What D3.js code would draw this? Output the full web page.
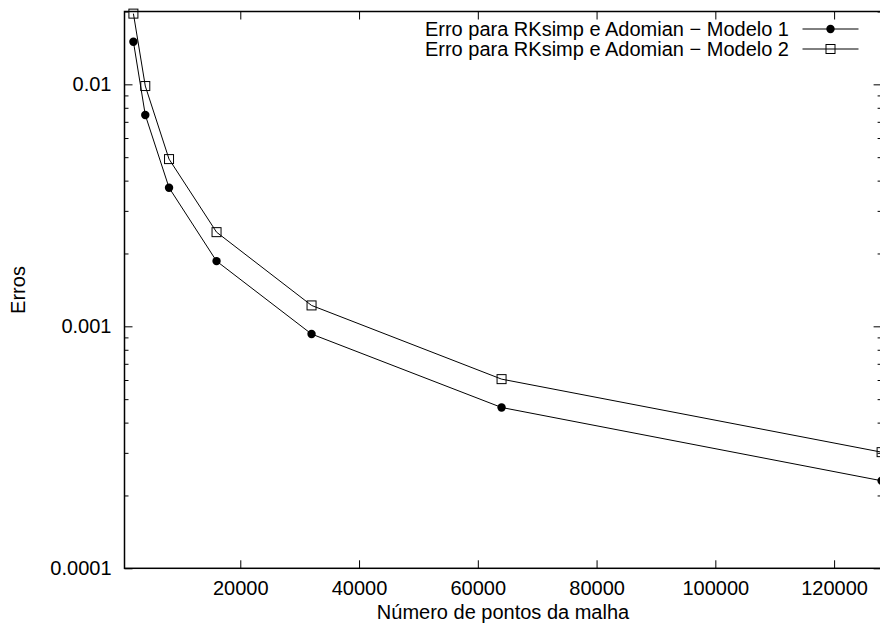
<!DOCTYPE html>
<html>
<head>
<meta charset="utf-8">
<script src="https://cdn.jsdelivr.net/npm/d3@7"></script>
<style>
  body { margin: 0; background: #fff; }
  text { font-family: "Liberation Sans", Arial, Helvetica, sans-serif; fill: #000; }
</style>
</head>
<body>
<div id="chart"></div>
<script>
var pontos = [2000, 4000, 8000, 16000, 32000, 64000, 128000];
var erroModelo1 = [0.0150, 0.00747, 0.00374, 0.00186, 0.000929, 0.000462, 0.000230];
var erroModelo2 = [0.0196, 0.00984, 0.00491, 0.00245, 0.00122, 0.000605, 0.000302];
var seriesNames = ['Erro para RKsimp e Adomian \u2212 Modelo 1', 'Erro para RKsimp e Adomian \u2212 Modelo 2'];
var xTicks = [20000, 40000, 60000, 80000, 100000, 120000];
var yTicks = [0.0001, 0.001, 0.01];
var yTickLabels = ['0.0001', '0.001', '0.01'];

var width = 880,
    height = 627,
    plotLeft = 124.5,
    plotRight = 881.6,
    plotTop = 11.5,
    plotBottom = 568.3,
    fontSize = '20px';

var svg = d3.select('#chart').append('svg')
  .attr('width', width)
  .attr('height', height);

var xScale = d3.scaleLinear()
  .domain([500, 128000])
  .range([plotLeft, plotRight]);

var yScale = d3.scaleLog()
  .domain([0.0001, 0.02])
  .range([plotBottom, plotTop]);

// minor log ticks 2..9 per decade
var minor = [];
for (var e = -4; e <= -2; e++) {
  for (var m = 2; m <= 9; m++) {
    var v = m * Math.pow(10, e);
    if (v <= 0.02) minor.push(v);
  }
}

var fmtY = function(d) { return yTickLabels[yTicks.indexOf(d)]; };

var yAxisL = d3.axisLeft(yScale).tickValues(yTicks).tickFormat(fmtY).tickSizeInner(-8).tickSizeOuter(0).tickPadding(13);
var gyl = svg.append('g').attr('transform', 'translate(' + plotLeft + ',0)');
yAxisL(gyl);
gyl.selectAll('text').style('font-size', fontSize);

var yMinorL = d3.axisLeft(yScale).tickValues(minor).tickFormat('').tickSizeInner(-4).tickSizeOuter(0);
svg.append('g').attr('transform', 'translate(' + plotLeft + ',0)').call(yMinorL);

var yAxisR = d3.axisRight(yScale).tickValues(yTicks).tickFormat('').tickSizeInner(-8).tickSizeOuter(0);
svg.append('g').attr('transform', 'translate(' + plotRight + ',0)').call(yAxisR);
var yMinorR = d3.axisRight(yScale).tickValues(minor).tickFormat('').tickSizeInner(-4).tickSizeOuter(0);
svg.append('g').attr('transform', 'translate(' + plotRight + ',0)').call(yMinorR);

var xAxisB = d3.axisBottom(xScale).tickValues(xTicks).tickFormat(d3.format('d')).tickSizeInner(-8).tickSizeOuter(0).tickPadding(13);
var gxb = svg.append('g').attr('transform', 'translate(0,' + plotBottom + ')');
xAxisB(gxb);
gxb.selectAll('text').style('font-size', fontSize);

var xAxisT = d3.axisTop(xScale).tickValues(xTicks).tickFormat('').tickSizeInner(-8).tickSizeOuter(0);
svg.append('g').attr('transform', 'translate(0,' + plotTop + ')').call(xAxisT);

svg.selectAll('.domain').remove();
svg.selectAll('.tick line').attr('stroke', '#000').attr('stroke-width', 1);

// frame
svg.append('rect')
  .attr('x', plotLeft).attr('y', plotTop)
  .attr('width', plotRight - plotLeft).attr('height', plotBottom - plotTop)
  .attr('fill', 'none').attr('stroke', '#000').attr('stroke-width', 1.5);

var line1 = d3.line()
  .x(function(d, i) { return xScale(pontos[i]); })
  .y(function(d) { return yScale(d); });

svg.append('path').datum(erroModelo1)
  .attr('d', line1).attr('fill', 'none').attr('stroke', '#000').attr('stroke-width', 1);
svg.append('path').datum(erroModelo2)
  .attr('d', line1).attr('fill', 'none').attr('stroke', '#000').attr('stroke-width', 1);

svg.append('g').selectAll('circle').data(erroModelo1)
  .enter().append('circle')
    .attr('cx', function(d, i) { return xScale(pontos[i]); })
    .attr('cy', function(d) { return yScale(d); })
    .attr('r', 4.2)
    .attr('fill', '#000');

svg.append('g').selectAll('rect').data(erroModelo2)
  .enter().append('rect')
    .attr('x', function(d, i) { return xScale(pontos[i]) - 4.5; })
    .attr('y', function(d) { return yScale(d) - 4.5; })
    .attr('width', 9).attr('height', 9)
    .attr('fill', 'none').attr('stroke', '#000').attr('stroke-width', 1);

// legend
var legend = svg.append('g');
var legY = [29, 49];
seriesNames.forEach(function(name, i) {
  legend.append('text')
    .attr('x', 789).attr('y', legY[i]).attr('dy', '0.35em')
    .attr('text-anchor', 'end').style('font-size', fontSize)
    .text(name);
  legend.append('line')
    .attr('x1', 802.5).attr('x2', 858.5).attr('y1', legY[i]).attr('y2', legY[i])
    .attr('stroke', '#000').attr('stroke-width', 1);
});
legend.append('circle').attr('cx', 830.5).attr('cy', legY[0]).attr('r', 4.2).attr('fill', '#000');
legend.append('rect').attr('x', 826).attr('y', legY[1] - 4.5).attr('width', 9).attr('height', 9)
  .attr('fill', 'none').attr('stroke', '#000');

// axis titles
svg.append('text')
  .attr('x', 503).attr('y', 619)
  .attr('text-anchor', 'middle').style('font-size', fontSize)
  .text('Número de pontos da malha');

svg.append('text')
  .attr('transform', 'translate(25,290) rotate(-90)')
  .attr('text-anchor', 'middle').style('font-size', fontSize)
  .text('Erros');
</script>
</body>
</html>
